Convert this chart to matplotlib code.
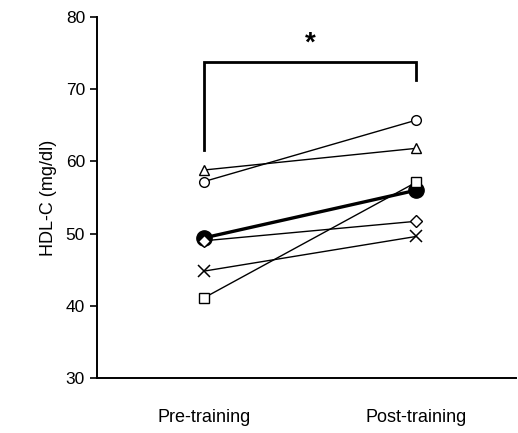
import matplotlib
matplotlib.use("Agg")
import matplotlib.pyplot as plt

plt.rcParams["font.family"] = ["Liberation Sans", "DejaVu Sans"]

# 個人データ（Pre → Post）
GROUPS = ["Pre-training", "Post-training"]
SUBJECTS = {
    "o": [57.2, 65.7],
    "^": [58.8, 61.8],
    "D": [49.0, 51.7],
    "x": [44.8, 49.6],
    "s": [41.1, 57.1],
}
MEAN = [49.4, 56.0]

fig = plt.figure(figsize=(5.18, 4.33), dpi=100)
ax = fig.add_axes([0.187, 0.127, 0.809, 0.834])

xs = [0, 1]
# 平均値（太線・黒丸）は個人マーカーの下に描く
ax.plot(xs, MEAN, color="black", lw=2.4, marker="o", ms=11,
        mfc="black", mec="black", zorder=2)

for mk, vals in SUBJECTS.items():
    ms = 7 if mk != "D" else 6
    ax.plot(xs, vals, color="black", lw=1.0, zorder=1)
    if mk == "x":
        ax.plot(xs, vals, ls="none", marker="x", ms=8, color="black",
                mew=1.1, zorder=3)
    else:
        ax.plot(xs, vals, ls="none", marker=mk, ms=ms, mfc="white",
                mec="black", mew=1.0, zorder=3)

# 有意差ブラケット
ax.plot([0, 0, 1, 1], [61.6, 73.8, 73.8, 71.3], color="black", lw=2.0,
        solid_joinstyle="miter")
ax.text(0.5, 76.3, "*", ha="center", va="center", fontsize=20,
        fontweight="bold")

ax.set_xlim(-0.505, 1.47)
ax.set_ylim(30, 80)
ax.set_yticks([30, 40, 50, 60, 70, 80])
ax.set_xticks(xs)
ax.set_xticklabels(GROUPS, fontsize=13)
ax.tick_params(axis="x", length=0, pad=22)
ax.tick_params(axis="y", direction="out", length=5, width=1.2,
               labelsize=12.5)
ax.set_ylabel("HDL-C (mg/dl)", fontsize=13, labelpad=6)

for side in ["top", "right"]:
    ax.spines[side].set_visible(False)
for side in ["left", "bottom"]:
    ax.spines[side].set_linewidth(1.4)

fig.savefig("out.png", dpi=100, facecolor="white")
